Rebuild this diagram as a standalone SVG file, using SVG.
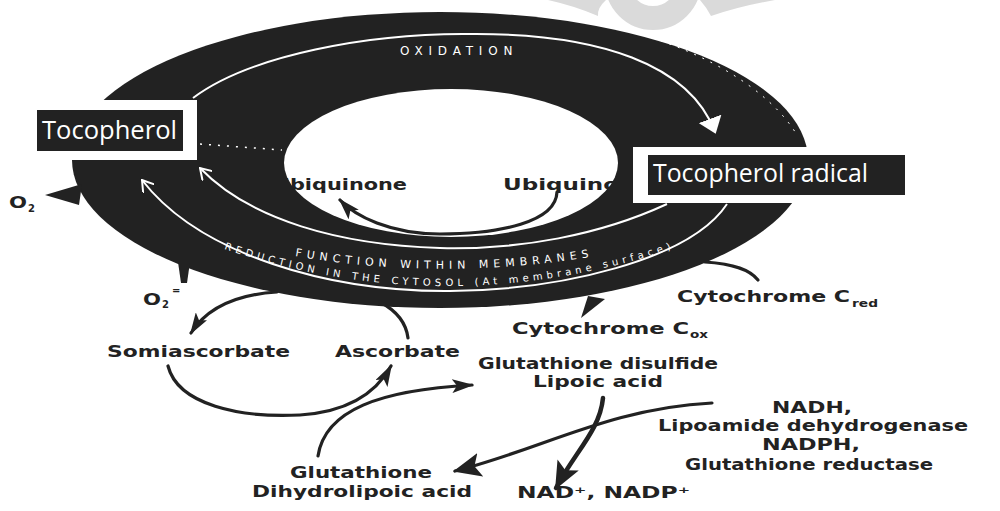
<svg xmlns="http://www.w3.org/2000/svg" width="1000" height="511" viewBox="0 0 1000 511">
<style>
.lbl{font-family:"DejaVu Sans","Liberation Sans",sans-serif;font-weight:bold;fill:#222;font-size:15px}
.sub{font-family:"DejaVu Sans","Liberation Sans",sans-serif;font-weight:bold;fill:#222;font-size:10px}
.ubi{font-family:"DejaVu Sans","Liberation Sans",sans-serif;font-weight:bold;fill:#222;font-size:15px}
.box{fill:#222}
.frame{fill:#fff}
.boxt{font-family:"Open Sans","Liberation Sans",sans-serif;fill:#fff;font-size:25px}
.band{font-family:"DejaVu Sans","Liberation Sans",sans-serif;fill:#fff}
.con{fill:none;stroke:#222;stroke-width:3.2;stroke-linecap:round}
.wl{fill:none;stroke:#fff;stroke-width:2}
.dark{fill:#222}
</style>
<defs>
<marker id="ah" viewBox="0 0 22 14" markerWidth="22" markerHeight="14" refX="20" refY="7" orient="auto" markerUnits="userSpaceOnUse"><path d="M0,0 L22,7 L0,14 L5,7 z" fill="#222"/></marker>
<marker id="ahL" viewBox="0 0 28 24" markerWidth="28" markerHeight="24" refX="26" refY="12" orient="auto" markerUnits="userSpaceOnUse"><path d="M0,0 L28,12 L0,24 L6,12 z" fill="#222"/></marker>
<marker id="wtri" viewBox="0 0 16 24" markerWidth="16" markerHeight="24" refX="14" refY="12" orient="auto" markerUnits="userSpaceOnUse"><path d="M0,0 L16,12 L0,24 z" fill="#fff"/></marker>
<marker id="wchev" viewBox="0 0 12 14" markerWidth="12" markerHeight="14" refX="11" refY="7" orient="auto" markerUnits="userSpaceOnUse"><path d="M0,0 L11,7 L0,14" fill="none" stroke="#fff" stroke-width="2"/></marker>
<path id="pf" d="M295,256 Q445,282 602,255"/>
<path id="pr" d="M224,249 Q450,324 678,247"/>
</defs>

<g id="watermark" fill="#dadada">
<circle cx="653" cy="-18" r="36" fill="none" stroke="#dadada" stroke-width="24"/>
<path d="M548,0 Q575,6 598,16 Q597,8 606,0 z"/>
<path d="M700,0 Q707,8 711,16 Q740,6 775,0 z"/>
</g>

<g id="membrane-ring">
<ellipse cx="440" cy="160" rx="368" ry="148" class="dark"/>
<ellipse cx="451" cy="163" rx="167" ry="74" fill="#fff"/>
<path d="M600,24 C700,45 770,90 797,135" fill="none" stroke="#fff" stroke-width="1" stroke-dasharray="2,7"/>
<path d="M200,144 L282,150" fill="none" stroke="#fff" stroke-width="1.5" stroke-dasharray="2,7"/>
<rect x="35" y="100" width="162" height="60" class="frame"/>
<rect x="633" y="147" width="280" height="56" class="frame"/>
<text class="band" x="400" y="55" font-size="12" letter-spacing="5.8">OXIDATION</text>
<text class="band" font-size="11" letter-spacing="5"><textPath href="#pf">FUNCTION WITHIN MEMBRANES</textPath></text>
<text class="band" font-size="10" letter-spacing="4.2"><textPath href="#pr">REDUCTION IN THE CYTOSOL (At membrane surface)</textPath></text>
</g>

<g id="connectors">
<path class="wl" d="M193,98 C250,55 370,33 470,34 C600,33 690,65 715,132" marker-end="url(#wtri)"/>
<path class="wl" d="M667,204 C600,235 520,250 440,248 C340,245 250,220 200,168" marker-end="url(#wchev)"/>
<path class="wl" d="M727,204 C690,260 560,290 450,291 C330,292 200,255 142,180" marker-end="url(#wchev)"/>
<path class="con" d="M557,192 C556,222 500,234 440,234 C390,234 355,216 340,200" marker-end="url(#ah)"/>
<polygon class="dark" points="45,195 82,184 79,205"/>
<polygon class="dark" points="178,262 190,262 187,283 181,283"/>
<path class="con" d="M277,292 C245,294 210,303 191,333" marker-end="url(#ah)"/>
<path class="con" d="M408,338 C406,322 395,310 380,302"/>
<path class="con" d="M168,366 C178,405 240,418 300,415 C345,412 375,395 391,366" marker-end="url(#ah)"/>
<path class="con" d="M318,456 C325,410 380,390 472,385" marker-end="url(#ah)"/>
<path class="con" d="M758,280 C750,270 735,264 705,262"/>
<polygon class="dark" points="581,318 588,296 605,299"/>
<path class="con" style="stroke-width:4.5" d="M603,398 C600,430 575,452 556,488" marker-end="url(#ahL)"/>
<path class="con" d="M712,403 C610,408 540,450 455,471" marker-end="url(#ahL)"/>
</g>

<g id="node-tocopherol">
<rect x="37" y="110" width="146" height="41" class="box"/>
<text class="boxt" x="42" y="139" textLength="135" lengthAdjust="spacingAndGlyphs">Tocopherol</text>
</g>
<g id="node-tocopherol-radical">
<rect x="648" y="155" width="257" height="40" class="box"/>
<text class="boxt" x="653" y="182" textLength="215" lengthAdjust="spacingAndGlyphs">Tocopherol radical</text>
</g>
<g id="node-ubiquinone">
<text class="ubi" x="273" y="190" textLength="134" lengthAdjust="spacingAndGlyphs">Ubiquinone</text>
</g>
<g id="node-ubiquinol">
<text class="ubi" x="503" y="190" textLength="124" lengthAdjust="spacingAndGlyphs">Ubiquinol</text>
</g>
<g id="node-o2">
<text class="lbl" x="9" y="208" font-size="16" textLength="18" lengthAdjust="spacingAndGlyphs">O</text>
<text class="sub" x="28" y="212">2</text>
</g>
<g id="node-superoxide">
<text class="lbl" x="143" y="305" font-size="16" textLength="18" lengthAdjust="spacingAndGlyphs">O</text>
<text class="sub" x="162" y="308">2</text>
<text class="sub" x="172" y="294">=</text>
</g>
<g id="node-semiascorbate">
<text class="lbl" x="107" y="357" textLength="183" lengthAdjust="spacingAndGlyphs">Somiascorbate</text>
</g>
<g id="node-ascorbate">
<text class="lbl" x="335" y="357" textLength="125" lengthAdjust="spacingAndGlyphs">Ascorbate</text>
</g>
<g id="node-cytochrome-red">
<text class="lbl" x="677" y="302" textLength="173" lengthAdjust="spacingAndGlyphs">Cytochrome C</text>
<text class="sub" x="852" y="307" textLength="26" lengthAdjust="spacingAndGlyphs">red</text>
</g>
<g id="node-cytochrome-ox">
<text class="lbl" x="512" y="334" textLength="177" lengthAdjust="spacingAndGlyphs">Cytochrome C</text>
<text class="sub" x="690" y="338" textLength="18" lengthAdjust="spacingAndGlyphs">ox</text>
</g>
<g id="node-glutathione-disulfide">
<text class="lbl" x="478" y="369" textLength="240" lengthAdjust="spacingAndGlyphs">Glutathione disulfide</text>
<text class="lbl" x="533" y="387" textLength="130" lengthAdjust="spacingAndGlyphs">Lipoic acid</text>
</g>
<g id="node-reductants">
<text class="lbl" x="772" y="413" textLength="80" lengthAdjust="spacingAndGlyphs">NADH,</text>
<text class="lbl" x="658" y="431" textLength="310" lengthAdjust="spacingAndGlyphs">Lipoamide dehydrogenase</text>
<text class="lbl" x="762" y="450" textLength="98" lengthAdjust="spacingAndGlyphs">NADPH,</text>
<text class="lbl" x="685" y="470" textLength="248" lengthAdjust="spacingAndGlyphs">Glutathione reductase</text>
</g>
<g id="node-nad">
<text class="lbl" x="517" y="498" textLength="173" lengthAdjust="spacingAndGlyphs">NAD⁺, NADP⁺</text>
</g>
<g id="node-glutathione">
<text class="lbl" x="290" y="478" textLength="142" lengthAdjust="spacingAndGlyphs">Glutathione</text>
<text class="lbl" x="252" y="497" textLength="220" lengthAdjust="spacingAndGlyphs">Dihydrolipoic acid</text>
</g>
</svg>
